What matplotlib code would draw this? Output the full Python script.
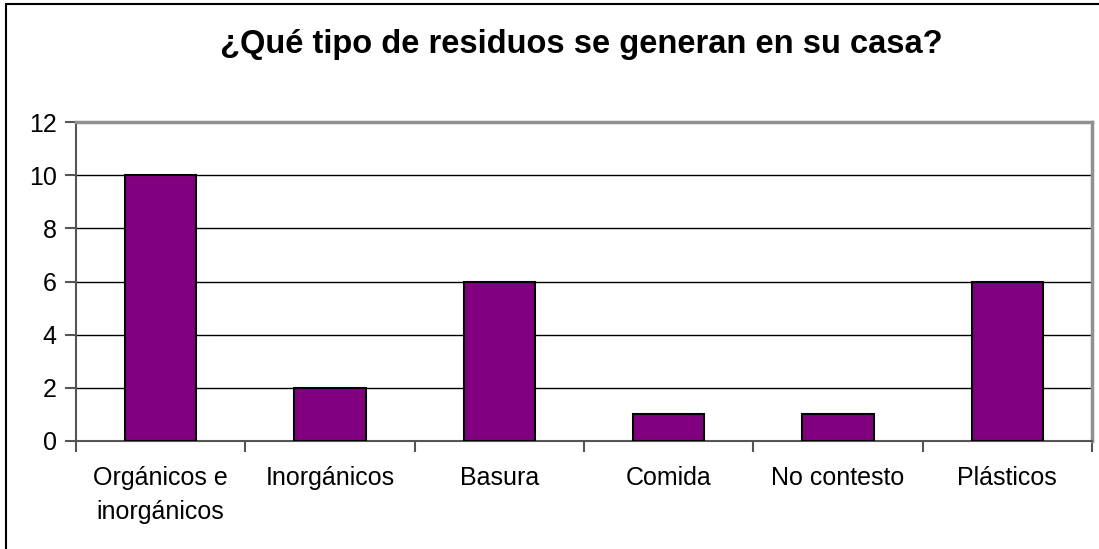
import matplotlib
matplotlib.use('Agg')
import matplotlib.pyplot as plt
import numpy as np

categories = ['Orgánicos e\ninorgánicos', 'Inorgánicos', 'Basura', 'Comida', 'No contesto', 'Plásticos']
values = [10, 2, 6, 1, 1, 6]
y_ticks = [0, 2, 4, 6, 8, 10, 12]
title = '¿Qué tipo de residuos se generan en su casa?'

plt.rcParams['font.family'] = ['Liberation Sans', 'DejaVu Sans']

W, H = 1099, 549
fig = plt.figure(figsize=(W / 100, H / 100), dpi=100)

# outer chart border (right and bottom edges fall outside the image)
fig.patches.append(plt.Rectangle((6 / W, -0.1), 1.2, 1 - 4 / H + 0.1, transform=fig.transFigure,
                                 fill=False, edgecolor='black', linewidth=1.5))

ax = fig.add_axes([76 / W, (H - 441) / H, (1092 - 76) / W, (441 - 122) / H])
x = np.arange(len(categories))
ax.bar(x, values, width=0.42, color='#800080', edgecolor='black', linewidth=1.5, zorder=3)

ax.set_xlim(-0.5, len(categories) - 0.5)
ax.set_ylim(0, 12)
ax.set_yticks(y_ticks)
ax.yaxis.grid(True, color='black', linewidth=1, zorder=0)
ax.set_xticks(x)
ax.set_xticklabels(categories, fontsize=18, linespacing=1.55, va='top')
ax.set_xticks(np.arange(-0.5, len(categories) + 0.5, 1), minor=True)
ax.tick_params(axis='x', which='major', length=0, pad=18)
ax.tick_params(axis='x', which='minor', length=8, color='#555555', width=1.5)
ax.tick_params(axis='y', length=8, color='#555555', width=1.5, labelsize=18, pad=6)

for s in ['top', 'right']:
    ax.spines[s].set_color('#909090')
    ax.spines[s].set_linewidth(2.5)
for s in ['left', 'bottom']:
    ax.spines[s].set_color('#555555')
    ax.spines[s].set_linewidth(1.5)

fig.text(581 / W, 1 - 45 / H, title, ha='center', va='center', fontsize=23.5, fontweight='bold')

fig.savefig('out.png', dpi=100)
